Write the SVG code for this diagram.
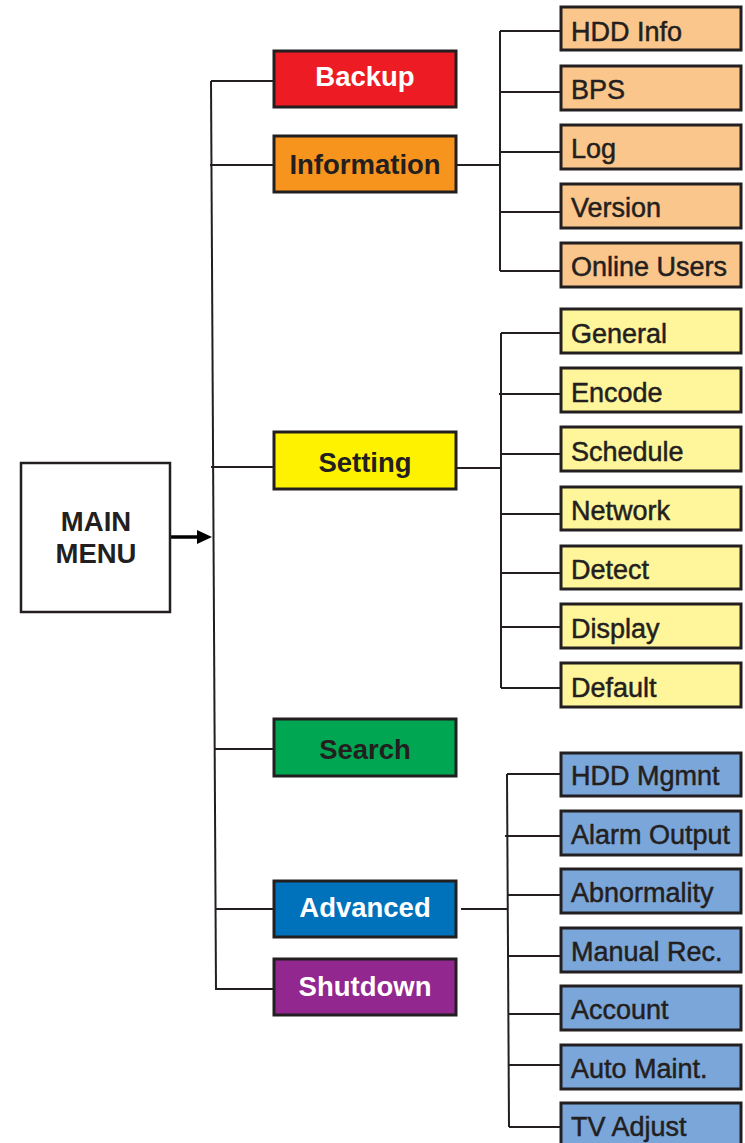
<svg xmlns="http://www.w3.org/2000/svg" width="745" height="1143" viewBox="0 0 745 1143">
<style>
.main{stroke:#231F20;stroke-width:3}
.sub{stroke:#231F20;stroke-width:3}
.info{fill:#FAC68B}
.set{fill:#FFF59A}
.adv{fill:#7BA6D9}
.t{font-family:"Liberation Sans",Arial,sans-serif;font-weight:bold;font-size:27.5px;text-anchor:middle}
.s{font-family:"Liberation Sans",Arial,sans-serif;font-size:27px;fill:#231F20;stroke:#231F20;stroke-width:0.5}
.dk{fill:#231F20}
.wh{fill:#FFFFFF}
.ln{stroke:#231F20;stroke-width:2;fill:none}
</style>
<rect width="745" height="1143" fill="#FFFFFF"/>
<g id="connectors">
<line class="ln" x1="211" y1="81" x2="216" y2="990"/>
<line class="ln" x1="211" y1="81" x2="274" y2="81"/>
<line class="ln" x1="210" y1="165" x2="274" y2="165"/>
<line class="ln" x1="211" y1="467" x2="274" y2="467"/>
<line class="ln" x1="214" y1="749" x2="274" y2="749"/>
<line class="ln" x1="215" y1="909" x2="274" y2="909"/>
<line class="ln" x1="215" y1="989" x2="274" y2="989"/>
<line x1="170" y1="537" x2="199" y2="537" stroke="#000" stroke-width="3.5"/>
<polygon points="197,530 212,537 197,544" fill="#000"/>
<line class="ln" x1="456" y1="165" x2="500" y2="165"/>
<line class="ln" x1="500" y1="31" x2="500" y2="271"/>
<line class="ln" x1="500" y1="31" x2="561" y2="31"/>
<line class="ln" x1="499" y1="92" x2="561" y2="92"/>
<line class="ln" x1="500" y1="152" x2="561" y2="152"/>
<line class="ln" x1="500" y1="212" x2="561" y2="212"/>
<line class="ln" x1="500" y1="271" x2="561" y2="271"/>
<line class="ln" x1="456" y1="468" x2="501" y2="468"/>
<line class="ln" x1="501" y1="333" x2="501" y2="688"/>
<line class="ln" x1="501" y1="333" x2="561" y2="333"/>
<line class="ln" x1="499" y1="394" x2="561" y2="394"/>
<line class="ln" x1="501" y1="454" x2="561" y2="454"/>
<line class="ln" x1="501" y1="514" x2="561" y2="514"/>
<line class="ln" x1="501" y1="573" x2="561" y2="573"/>
<line class="ln" x1="501" y1="627" x2="561" y2="627"/>
<line class="ln" x1="501" y1="688" x2="561" y2="688"/>
<line class="ln" x1="461" y1="909" x2="508" y2="909"/>
<line class="ln" x1="507" y1="774" x2="509" y2="1127"/>
<line class="ln" x1="507" y1="774" x2="561" y2="774"/>
<line class="ln" x1="505" y1="836" x2="561" y2="836"/>
<line class="ln" x1="507" y1="895" x2="561" y2="895"/>
<line class="ln" x1="508" y1="956" x2="561" y2="956"/>
<line class="ln" x1="508" y1="1014" x2="561" y2="1014"/>
<line class="ln" x1="509" y1="1065" x2="561" y2="1065"/>
<line class="ln" x1="509" y1="1127" x2="561" y2="1127"/>
</g>
<g id="main-menu">
<rect x="21" y="463" width="149" height="149" fill="#FFFFFF" stroke="#231F20" stroke-width="2.5"/>
<text class="t dk" x="96" y="531">MAIN</text>
<text class="t dk" x="96" y="563">MENU</text>
</g>
<g id="backup"><rect class="main" x="274" y="51" width="182" height="56" fill="#ED1C24"/><text class="t wh" x="365" y="86">Backup</text></g>
<g id="information"><rect class="main" x="274" y="136" width="182" height="56" fill="#F7941D"/><text class="t dk" x="365" y="174">Information</text></g>
<g id="setting"><rect class="main" x="274" y="432" width="182" height="57" fill="#FFF200"/><text class="t dk" x="365" y="472">Setting</text></g>
<g id="search"><rect class="main" x="274" y="719" width="182" height="57" fill="#00A651"/><text class="t dk" x="365" y="759">Search</text></g>
<g id="advanced"><rect class="main" x="274" y="881" width="182" height="56" fill="#0072BC"/><text class="t wh" x="365" y="917">Advanced</text></g>
<g id="shutdown"><rect class="main" x="274" y="959" width="182" height="56" fill="#92278F"/><text class="t wh" x="365" y="996">Shutdown</text></g>
<g id="hdd-info"><rect class="sub info" x="561" y="7" width="180" height="43"/><text class="s" x="571" y="41">HDD Info</text></g>
<g id="bps"><rect class="sub info" x="561" y="66" width="180" height="44"/><text class="s" x="571" y="99">BPS</text></g>
<g id="log"><rect class="sub info" x="561" y="125" width="180" height="44"/><text class="s" x="571" y="158">Log</text></g>
<g id="version"><rect class="sub info" x="561" y="184" width="180" height="44"/><text class="s" x="571" y="217">Version</text></g>
<g id="online-users"><rect class="sub info" x="561" y="243" width="180" height="44"/><text class="s" x="571" y="276">Online Users</text></g>
<g id="general"><rect class="sub set" x="561" y="309" width="180" height="44"/><text class="s" x="571" y="343">General</text></g>
<g id="encode"><rect class="sub set" x="561" y="368" width="180" height="44"/><text class="s" x="571" y="402">Encode</text></g>
<g id="schedule"><rect class="sub set" x="561" y="427" width="180" height="44"/><text class="s" x="571" y="461">Schedule</text></g>
<g id="network"><rect class="sub set" x="561" y="487" width="180" height="43"/><text class="s" x="571" y="520">Network</text></g>
<g id="detect"><rect class="sub set" x="561" y="546" width="180" height="43"/><text class="s" x="571" y="579">Detect</text></g>
<g id="display"><rect class="sub set" x="561" y="604" width="180" height="44"/><text class="s" x="571" y="638">Display</text></g>
<g id="default"><rect class="sub set" x="561" y="663" width="180" height="44"/><text class="s" x="571" y="697">Default</text></g>
<g id="hdd-mgmnt"><rect class="sub adv" x="561" y="753" width="180" height="43"/><text class="s" x="571" y="785">HDD Mgmnt</text></g>
<g id="alarm-output"><rect class="sub adv" x="561" y="811" width="180" height="44"/><text class="s" x="571" y="844">Alarm Output</text></g>
<g id="abnormality"><rect class="sub adv" x="561" y="869" width="180" height="44"/><text class="s" x="571" y="902">Abnormality</text></g>
<g id="manual-rec"><rect class="sub adv" x="561" y="928" width="180" height="44"/><text class="s" x="571" y="961">Manual Rec.</text></g>
<g id="account"><rect class="sub adv" x="561" y="986" width="180" height="44"/><text class="s" x="571" y="1019">Account</text></g>
<g id="auto-maint"><rect class="sub adv" x="561" y="1045" width="180" height="44"/><text class="s" x="571" y="1078">Auto Maint.</text></g>
<g id="tv-adjust"><rect class="sub adv" x="561" y="1103" width="180" height="44"/><text class="s" x="571" y="1136">TV Adjust</text></g>
</svg>
